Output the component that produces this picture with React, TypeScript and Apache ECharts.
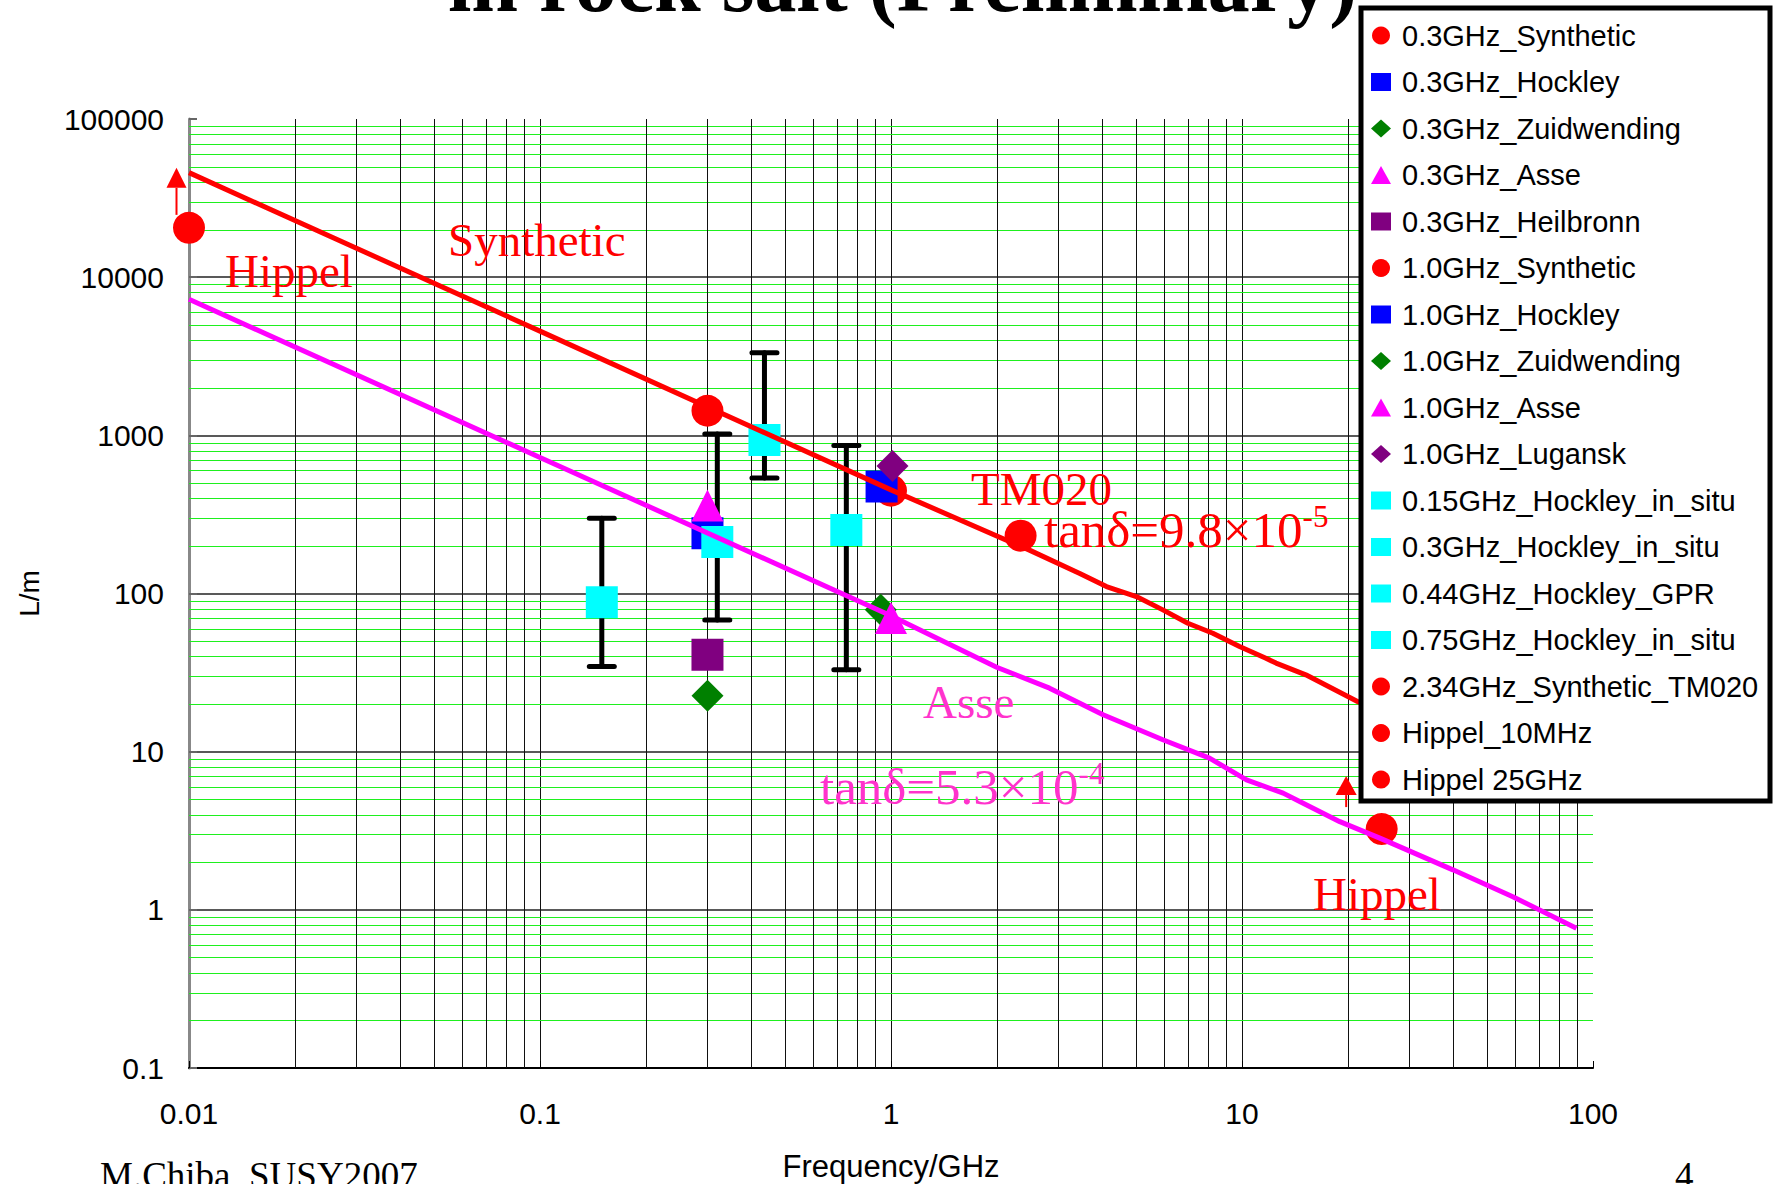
import React, { useEffect, useRef } from "react";
import * as echarts from "echarts";

// ---------- data ----------
const pt03Synthetic: number[][] = [[0.3, 1430]];
const pt03Hockley: number[][] = [[0.3, 240]];
const pt03Zuidwending: number[][] = [[0.3, 22.6]];
const pt03Asse: number[][] = [[0.3, 360]];
const pt03Heilbronn: number[][] = [[0.3, 41]];
const pt10Synthetic: number[][] = [[1.0, 447]];
const pt10Hockley: number[][] = [[0.94, 474]];
const pt10Zuidwending: number[][] = [[0.935, 79]];
const pt10Asse: number[][] = [[1.0, 70]];
const pt10Lugansk: number[][] = [[1.01, 640]];
const pt015InSitu: number[][] = [[0.15, 88]];
const pt03InSitu: number[][] = [[0.32, 212]];
const pt044GPR: number[][] = [[0.436, 935]];
const pt075InSitu: number[][] = [[0.746, 252]];
const pt234TM020: number[][] = [[2.34, 232]];
const ptHippel10MHz: number[][] = [[0.01, 20500]];
const ptHippel25GHz: number[][] = [[25, 3.24]];

// error bars: [frequency, low, high]
const errorBars: number[][] = [
  [0.15, 34.5, 299],
  [0.32, 68, 1020],
  [0.436, 538, 3330],
  [0.746, 33, 861],
];

// Synthetic fit line (tanδ = 9.8e-5)
const synthLineF = [0.01, 0.1, 1, 2.48, 3.45, 4.11, 5.0, 5.95, 7.01, 8.26, 9.84, 11.7, 12.5, 15.2, 21.4, 25];
const synthLineL = [45800, 4560, 452, 188, 134, 110.6, 95.6, 78.8, 64.9, 56.1, 46.2, 39.0, 36.3, 30.6, 20.7, 17.8];

// Asse fit line (tanδ = 5.3e-4)
const asseLineF = [0.01, 0.1, 1, 1.105, 2.0, 2.83, 4.02, 5.95, 8.08, 10.3, 13.1, 14.6, 19.0, 24.7, 39.9, 59.1, 89.7];
const asseLineL = [7250, 725, 72.3, 64.9, 34.2, 25.2, 17.1, 11.9, 9.1, 6.63, 5.47, 4.84, 3.61, 2.84, 1.79, 1.21, 0.766];

// minor grid positions
const xMinorGrid = [
  0.02, 0.03, 0.04, 0.05, 0.06, 0.07, 0.08, 0.09,
  0.2, 0.3, 0.4, 0.5, 0.6, 0.7, 0.8, 0.9,
  2, 3, 4, 5, 6, 7, 8, 9,
  20, 30, 40, 50, 60, 70, 80, 90,
];
const yMinorGrid = [
  0.2, 0.3, 0.4, 0.5, 0.6, 0.7, 0.8, 0.9,
  2, 3, 4, 5, 6, 7, 8, 9,
  20, 30, 40, 50, 60, 70, 80, 90,
  200, 300, 400, 500, 600, 700, 800, 900,
  2000, 3000, 4000, 5000, 6000, 7000, 8000, 9000,
  20000, 30000, 40000, 50000, 60000, 70000, 80000, 90000,
];

const SANS = "'Liberation Sans', Arial, sans-serif";
const SERIF = "'Liberation Serif', 'Times New Roman', serif";

type Pt = { name: string; data: number[][]; symbol: string; color: string };
const points: Pt[] = [
  { name: "0.3GHz_Synthetic", data: pt03Synthetic, symbol: "circle", color: "#ff0000" },
  { name: "0.3GHz_Hockley", data: pt03Hockley, symbol: "rect", color: "#0000ff" },
  { name: "0.3GHz_Zuidwending", data: pt03Zuidwending, symbol: "diamond", color: "#008000" },
  { name: "0.3GHz_Asse", data: pt03Asse, symbol: "triangle", color: "#ff00ff" },
  { name: "0.3GHz_Heilbronn", data: pt03Heilbronn, symbol: "rect", color: "#800080" },
  { name: "1.0GHz_Synthetic", data: pt10Synthetic, symbol: "circle", color: "#ff0000" },
  { name: "1.0GHz_Hockley", data: pt10Hockley, symbol: "rect", color: "#0000ff" },
  { name: "1.0GHz_Zuidwending", data: pt10Zuidwending, symbol: "diamond", color: "#008000" },
  { name: "1.0GHz_Asse", data: pt10Asse, symbol: "triangle", color: "#ff00ff" },
  { name: "1.0GHz_Lugansk", data: pt10Lugansk, symbol: "diamond", color: "#800080" },
  { name: "0.15GHz_Hockley_in_situ", data: pt015InSitu, symbol: "rect", color: "#00ffff" },
  { name: "0.3GHz_Hockley_in_situ", data: pt03InSitu, symbol: "rect", color: "#00ffff" },
  { name: "0.44GHz_Hockley_GPR", data: pt044GPR, symbol: "rect", color: "#00ffff" },
  { name: "0.75GHz_Hockley_in_situ", data: pt075InSitu, symbol: "rect", color: "#00ffff" },
  { name: "2.34GHz_Synthetic_TM020", data: pt234TM020, symbol: "circle", color: "#ff0000" },
  { name: "Hippel_10MHz", data: ptHippel10MHz, symbol: "circle", color: "#ff0000" },
  { name: "Hippel 25GHz", data: ptHippel25GHz, symbol: "circle", color: "#ff0000" },
];

const fmt = (v: number) => {
  const n = Number(v);
  return n >= 1 ? String(Math.round(n)) : String(Number(n.toPrecision(3)));
};

function gridLines(vals: number[], horizontal: boolean, color: string, width: number) {
  return {
    type: "custom",
    silent: true,
    z: 1,
    clip: false,
    data: vals.map((v) => (horizontal ? [1, v] : [v, 1])),
    renderItem: (params: any, api: any) => {
      const cs = params.coordSys;
      const p = api.coord([api.value(0), api.value(1)]);
      const shape = horizontal
        ? { x1: cs.x, y1: Math.round(p[1]) + 0.5, x2: cs.x + cs.width, y2: Math.round(p[1]) + 0.5 }
        : { x1: Math.round(p[0]) + 0.5, y1: cs.y, x2: Math.round(p[0]) + 0.5, y2: cs.y + cs.height };
      return { type: "line", shape, style: { stroke: color, lineWidth: width } };
    },
  };
}

export default function App() {
  const ref = useRef<HTMLDivElement>(null);
  useEffect(() => {
    if (!ref.current) return;
    const chart = echarts.init(ref.current, undefined, { renderer: "svg" });

    const scatterSeries = points.map((p) => ({
      name: p.name,
      type: "scatter",
      data: p.data,
      symbol: p.symbol,
      symbolSize: 32,
      itemStyle: { color: p.color, opacity: 1 },
      z: 3,
      clip: false,
      silent: true,
    }));

    const option: any = {
      animation: false,
      backgroundColor: "#ffffff",
      grid: { left: 189, top: 119, right: 185, bottom: 116, containLabel: false, outerBoundsMode: "none" },
      xAxis: {
        type: "log",
        logBase: 10,
        min: 0.01,
        max: 100,
        name: "Frequency/GHz",
        nameLocation: "middle",
        nameGap: 83,
        nameTextStyle: { fontFamily: SANS, fontSize: 31, color: "#000" },
        axisLine: { show: true, lineStyle: { color: "#000", width: 2 } },
        axisTick: { show: true, inside: true, length: 7, lineStyle: { color: "#000", width: 1 } },
        axisLabel: { formatter: fmt, fontFamily: SANS, fontSize: 30, color: "#000", margin: 30 },
        splitLine: { show: true, showMinLine: false, showMaxLine: false, lineStyle: { color: "#111", width: 1 } },
      },
      yAxis: {
        type: "log",
        logBase: 10,
        min: 0.1,
        max: 100000,
        name: "L/m",
        nameLocation: "middle",
        nameGap: 146,
        nameRotate: 90,
        nameTextStyle: { fontFamily: SANS, fontSize: 28, color: "#000" },
        axisLine: { show: true, lineStyle: { color: "#888", width: 3 } },
        axisTick: { show: true, inside: true, length: 8, lineStyle: { color: "#666", width: 2 } },
        axisLabel: { formatter: fmt, fontFamily: SANS, fontSize: 30, color: "#000", margin: 25 },
        splitLine: { show: true, showMinLine: false, showMaxLine: false, lineStyle: { color: "#222", width: 1.5 } },
      },
      legend: {
        data: points.map((p) => p.name),
        orient: "vertical",
        left: 1371,
        top: 21,
        itemWidth: 20,
        itemHeight: 18,
        itemGap: 17.5,
        padding: 0,
        selectedMode: false,
        z: 20,
        textStyle: { fontFamily: SANS, fontSize: 29, color: "#000", padding: [0, 0, 0, 6] },
      },
      series: [
        gridLines(yMinorGrid, true, "#1ef01e", 1),
        gridLines(xMinorGrid, false, "#111", 1),
        {
          type: "custom",
          name: "errorbars",
          silent: true,
          z: 2,
          clip: false,
          data: errorBars,
          encode: { x: 0, y: [1, 2] },
          renderItem: (params: any, api: any) => {
            const lo = api.coord([api.value(0), api.value(1)]);
            const hi = api.coord([api.value(0), api.value(2)]);
            const hw = 12.5;
            const st = { stroke: "#000", lineWidth: 5, lineCap: "round" };
            return {
              type: "group",
              children: [
                { type: "line", shape: { x1: lo[0], y1: lo[1], x2: hi[0], y2: hi[1] }, style: st },
                { type: "line", shape: { x1: lo[0] - hw, y1: lo[1], x2: lo[0] + hw, y2: lo[1] }, style: st },
                { type: "line", shape: { x1: hi[0] - hw, y1: hi[1], x2: hi[0] + hw, y2: hi[1] }, style: st },
              ],
            };
          },
        },
        ...scatterSeries,
        {
          type: "line",
          name: "SyntheticFit",
          data: synthLineF.map((f, i) => [f, synthLineL[i]]),
          showSymbol: false,
          symbol: "none",
          silent: true,
          z: 4,
          lineStyle: { color: "#ff0000", width: 5 },
        },
        {
          type: "line",
          name: "AsseFit",
          data: asseLineF.map((f, i) => [f, asseLineL[i]]),
          showSymbol: false,
          symbol: "none",
          silent: true,
          z: 4,
          lineStyle: { color: "#ff00ff", width: 5 },
        },
      ],
    };
    chart.setOption(option);

    const px = (d: number[]) => chart.convertToPixel({ gridIndex: 0 }, d) as number[];
    const h10 = px(ptHippel10MHz[0]);
    const h25 = px(ptHippel25GHz[0]);
    const arrow = (x: number, yBottom: number, yBase: number, yTip: number, hw: number) => [
      { type: "line", z: 6, shape: { x1: x, y1: yBottom, x2: x, y2: yBase }, style: { stroke: "#ff0000", lineWidth: 2 } },
      { type: "polygon", z: 6, shape: { points: [[x, yTip], [x - hw, yBase], [x + hw, yBase]] }, style: { fill: "#ff0000" } },
    ];

    const txt = (text: string, x: number, y: number, size: number, fill: string, extra: any = {}) => ({
      type: "text",
      z: 6,
      x,
      y,
      style: {
        text,
        fontFamily: SERIF,
        fontSize: size,
        fill,
        align: "left",
        verticalAlign: "middle",
        ...extra,
      },
    });

    const supText = (base: string, sup: string, x: number, y: number, fill: string) => ({
      type: "text",
      z: 6,
      x,
      y,
      style: {
        text: `{b|${base}}{s|${sup}}`,
        align: "left",
        verticalAlign: "middle",
        rich: {
          b: { fontFamily: SERIF, fontSize: 51, fill, lineHeight: 54, verticalAlign: "bottom" },
          s: { fontFamily: SERIF, fontSize: 31, fill, lineHeight: 31, verticalAlign: "top" },
        },
      },
    });

    chart.setOption({
      graphic: [
        {
          type: "rect",
          z: 10,
          shape: { x: 1361, y: 8, width: 409, height: 793 },
          style: { fill: "#ffffff", stroke: "#000000", lineWidth: 5 },
        },
        txt("in rock salt (Preliminary)", 448, -18, 84, "#000", { fontWeight: "bold" }),
        txt("Hippel", 225, 271, 47, "#ff0000"),
        txt("Synthetic", 448, 240, 47, "#ff0000"),
        txt("TM020", 971, 489, 47, "#ff0000"),
        supText("tanδ=9.8×10", "-5", 1044, 528, "#ff0000"),
        txt("Asse", 923, 702, 47, "#ff33cc"),
        supText("tanδ=5.3×10", "-4", 820, 785, "#ff33cc"),
        txt("Hippel", 1313, 894, 47, "#ff0000"),
        txt("M.Chiba, SUSY2007", 100, 1175, 37, "#000"),
        txt("4", 1675, 1175, 37, "#000"),
        ...arrow(h10[0] - 12.5, h10[1] - 13, h10[1] - 40, h10[1] - 60, 10),
        ...arrow(h25[0] - 35.5, h25[1] - 22, h25[1] - 34, h25[1] - 53, 10.5),
      ],
    });

    return () => chart.dispose();
  }, []);

  return (
    <div
      ref={ref}
      style={{ position: "fixed", left: 0, top: 0, width: 1778, height: 1184, background: "#fff" }}
    />
  );
}
